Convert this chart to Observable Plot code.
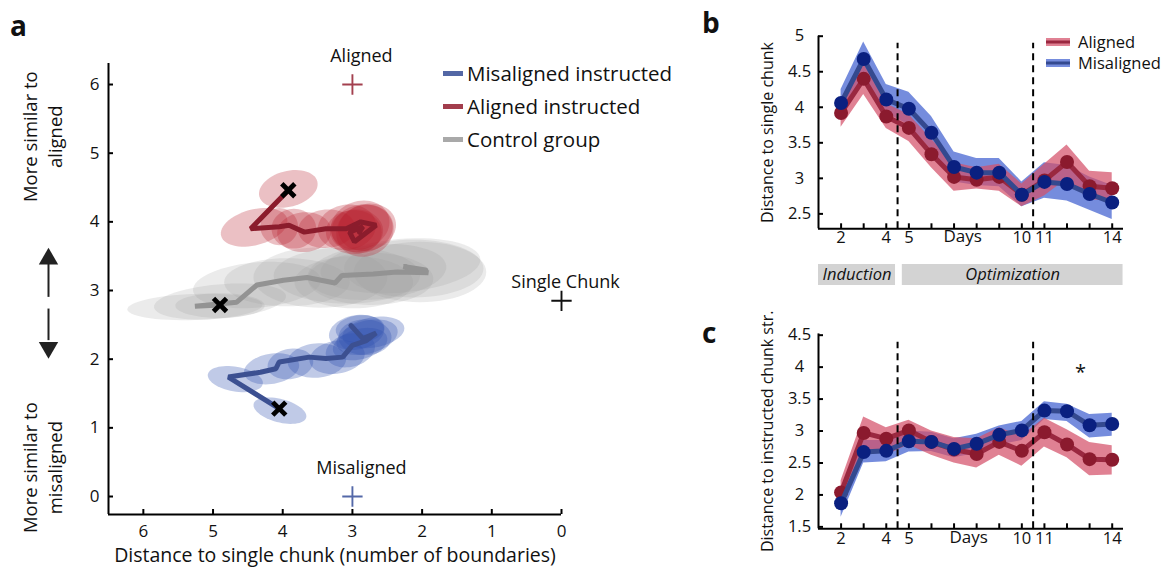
<!DOCTYPE html>
<html><head><meta charset="utf-8">
<script src="https://cdn.jsdelivr.net/npm/d3@7"></script>
<script src="https://cdn.jsdelivr.net/npm/@observablehq/plot@0.6"></script>
<style>
body{margin:0;background:#fff;}
#fig{position:relative;width:1173px;height:575px;font-family:"Open Sans",sans-serif;color:#111;overflow:hidden;background:#fff}
.abs{position:absolute}
.letter{position:absolute;font-weight:bold;font-size:28px;line-height:1;font-family:"Open Sans",sans-serif}
.leg{display:flex;align-items:center;white-space:nowrap}
</style></head><body>
<div id="fig">
  <div id="pa" class="abs" style="left:0;top:0"></div>
  <div id="pb" class="abs" style="left:700px;top:0"></div>
  <div id="pphase" class="abs" style="left:700px;top:264px"></div>
  <div id="pc" class="abs" style="left:700px;top:300px"></div>
  <div class="letter" style="left:10px;top:11px">a</div>
  <div class="letter" style="left:702px;top:8px">b</div>
  <div class="letter" style="left:702px;top:318px">c</div>
  <div id="legA" class="abs" style="left:443px;top:57px;font-size:20.5px;line-height:33px"></div>
  <div id="legB" class="abs" style="left:1046px;top:31px;font-size:16.5px;line-height:21px"></div>
</div>
<script>
// ---------------- Panel a data ----------------
const trajNames = ["Misaligned instructed", "Aligned instructed", "Control group"];
const trajColors = ["#3c5091", "#8b1c2c", "#939393"];
const legendColors = ["#5367a5", "#a23d4c", "#a9a9a9"];
const ellipseColors = ["#3050b0", "#b81c2c", "#9a9a9a"];
const ellipseOpacity = [0.3, 0.28, 0.2];

// trajectories (x = distance to single chunk, y = similarity axis), days 2..14
const blueX = [4.05, 4.78, 4.32, 4.10, 4.05, 3.62, 3.38, 3.14, 3.00, 2.80, 2.66, 2.85, 3.02];
const blueY = [1.28, 1.74, 1.81, 1.86, 1.96, 2.03, 2.01, 2.03, 2.20, 2.27, 2.38, 2.30, 2.49];
const redX  = [3.92, 4.46, 4.05, 3.91, 3.69, 3.38, 3.09, 2.88, 2.66, 2.97, 3.04, 2.85, 2.90];
const redY  = [4.46, 3.90, 3.93, 3.95, 3.85, 3.90, 3.90, 4.00, 3.95, 3.71, 3.85, 3.93, 3.85];
const grayX = [4.90, 5.26, 4.66, 4.37, 3.99, 3.65, 3.25, 3.15, 2.70, 2.36, 1.91, 2.27, 1.95];
const grayY = [2.79, 2.77, 2.83, 3.08, 3.15, 3.19, 3.11, 3.22, 3.24, 3.27, 3.26, 3.35, 3.30];

// spread ellipses: [centerX, centerY, spreadX, spreadY, tilt(deg)]
const blueEll = [
  [4.04,1.25,0.39,0.17,-15],[4.68,1.71,0.40,0.18,-10],[4.16,1.86,0.40,0.22,10],[3.89,1.93,0.33,0.22,10],
  [3.51,1.98,0.42,0.25,5],[3.22,2.03,0.40,0.24,10],[3.03,2.13,0.36,0.24,15],[2.89,2.22,0.40,0.22,15],
  [2.79,2.32,0.45,0.24,15],[2.70,2.39,0.45,0.22,10],[2.94,2.39,0.40,0.25,10],[2.82,2.32,0.38,0.26,0],[2.89,2.44,0.35,0.20,5]
];
const redEll = [
  [3.92,4.48,0.43,0.26,15],[4.41,3.92,0.49,0.26,15],[4.05,3.93,0.27,0.27,0],[3.84,3.90,0.32,0.29,0],
  [3.69,3.85,0.39,0.29,5],[3.37,3.90,0.41,0.28,5],[3.08,3.92,0.42,0.33,10],[2.89,3.95,0.43,0.35,20],
  [2.79,3.92,0.42,0.34,15],[2.98,3.85,0.40,0.32,0],[2.86,3.90,0.44,0.35,10],[2.94,3.87,0.38,0.31,0],[2.82,3.87,0.42,0.37,25]
];
const grayEll = [
  [5.26,2.76,0.97,0.19,2],[4.90,2.84,0.95,0.25,5],[4.90,2.78,0.64,0.18,0],[4.37,3.08,0.92,0.33,5],
  [3.94,3.12,0.90,0.35,0],[3.46,3.19,0.96,0.44,0],[3.08,3.22,1.05,0.41,0],[2.98,3.12,0.85,0.38,0],
  [2.74,3.17,0.90,0.38,0],[2.65,3.27,1.00,0.40,5],[2.31,3.36,1.15,0.39,5],[2.12,3.32,1.00,0.42,0],[2.03,3.27,0.95,0.44,0]
];

const refNames = ["Aligned", "Misaligned", "Single Chunk"];
const refX = [3, 3, 0];
const refY = [6, 0, 2.85];
const refColors = ["#a3404f", "#5468a8", "#111111"];

const aXTicks = [0, 1, 2, 3, 4, 5, 6];
const aYTicks = [0, 1, 2, 3, 4, 5, 6];
const aXDomain = [6.5, 0];
const aYDomain = [-0.262, 6.306];

// ---------------- Panels b, c data ----------------
const days = [2, 3, 4, 5, 6, 7, 8, 9, 10, 11, 12, 13, 14];
const dayLabels = [2, 4, 5, 10, 11, 14];
const seriesNames = ["Aligned", "Misaligned"];
const bandColors = ["#d4506a", "#4060d0"];
const lineColors = ["#9a2840", "#34498f"];
const dotColors = ["#8b1a2e", "#0a2080"];

const bAlignedMean = [3.92, 4.40, 3.87, 3.71, 3.34, 3.02, 2.98, 3.02, 2.77, 2.97, 3.23, 2.89, 2.86];
const bAlignedLow  = [3.72, 4.18, 3.70, 3.52, 3.15, 2.82, 2.85, 2.82, 2.60, 2.75, 2.99, 2.70, 2.68];
const bAlignedHigh = [4.12, 4.62, 4.05, 3.90, 3.55, 3.22, 3.15, 3.20, 2.92, 3.20, 3.47, 3.10, 3.08];
const bMisMean = [4.06, 4.68, 4.11, 3.98, 3.64, 3.16, 3.08, 3.08, 2.77, 2.95, 2.92, 2.78, 2.66];
const bMisLow  = [3.85, 4.45, 3.92, 3.75, 3.40, 2.95, 2.90, 2.88, 2.60, 2.72, 2.68, 2.55, 2.42];
const bMisHigh = [4.25, 4.92, 4.32, 4.21, 3.87, 3.37, 3.28, 3.28, 2.95, 3.22, 3.18, 3.02, 2.90];

const cAlignedMean = [2.04, 2.97, 2.88, 3.01, 2.83, 2.71, 2.64, 2.83, 2.69, 2.98, 2.79, 2.56, 2.55];
const cAlignedLow  = [1.85, 2.72, 2.62, 2.78, 2.62, 2.50, 2.42, 2.62, 2.45, 2.75, 2.58, 2.30, 2.31];
const cAlignedHigh = [2.22, 3.22, 3.05, 3.17, 3.00, 2.90, 2.88, 3.05, 2.92, 3.20, 3.02, 2.82, 2.77];
const cMisMean = [1.87, 2.67, 2.69, 2.84, 2.83, 2.72, 2.80, 2.94, 3.01, 3.32, 3.31, 3.09, 3.11];
const cMisLow  = [1.65, 2.50, 2.52, 2.67, 2.68, 2.58, 2.65, 2.78, 2.85, 3.18, 3.15, 2.89, 2.92];
const cMisHigh = [2.05, 2.85, 2.85, 3.00, 2.98, 2.88, 2.95, 3.08, 3.15, 3.46, 3.42, 3.26, 3.28];

const bYTicks = [2.5, 3, 3.5, 4, 4.5, 5];
const cYTicks = [1.5, 2, 2.5, 3, 3.5, 4, 4.5];
const dayDomain = [1, 14.5];
const bYDomain = [2.29, 5.0];
const cYDomain = [1.47, 4.52];
const phaseBreaks = [4.5, 10.5];
const phaseNames = ["Induction", "Optimization"];
const phaseStart = [1, 4.71];
const phaseEnd = [4.41, 14.48];
const sigDay = 12.6, sigValue = 3.92;

// ---------------- helpers ----------------
function ellipsePts(list, key) {
  const out = [];
  list.forEach(([cx, cy, sx, sy, ang], i) => {
    const th = ang * Math.PI / 180;
    for (let k = 0; k <= 60; k++) {
      const t = 2 * Math.PI * k / 60;
      const u = sx * Math.cos(t), v = sy * Math.sin(t);
      const dxs = u * Math.cos(th) - v * Math.sin(th);
      const dys = u * Math.sin(th) + v * Math.cos(th);
      out.push({x: cx - dxs, y: cy + dys, id: key + i});
    }
  });
  return out;
}
const traj = (xs, ys) => xs.map((x, i) => ({x, y: ys[i]}));
const FONT = '"Open Sans", sans-serif';

// ---------------- Panel a ----------------
const A_W = 640, A_H = 575, A_ML = 108, A_MR = 79, A_MT = 63, A_MB = 61;
const aPxPerY = (A_H - A_MT - A_MB) / (aYDomain[1] - aYDomain[0]);
const aPxPerX = (A_W - A_ML - A_MR) / (aXDomain[0] - aXDomain[1]);
const aTickY = 5 / aPxPerY, aTickX = 5 / aPxPerX;
const ells = [blueEll, redEll, grayEll];
const trajs = [traj(blueX, blueY), traj(redX, redY), traj(grayX, grayY)];
const refs = refNames.map((n, i) => ({name: n, x: refX[i], y: refY[i], color: refColors[i]}));
const order = [2, 0, 1];
const aMarks = [];
for (const g of order) {
  aMarks.push(Plot.line(ellipsePts(ells[g], "e" + g), {x: "x", y: "y", z: "id", fill: ellipseColors[g], fillOpacity: ellipseOpacity[g], stroke: "none"}));
  aMarks.push(Plot.line(trajs[g], {x: "x", y: "y", stroke: trajColors[g], strokeWidth: 5, strokeLinejoin: "miter"}));
}
const starts = trajs.map(t => t[0]);
const pa = Plot.plot({
  width: A_W, height: A_H, marginLeft: A_ML, marginRight: A_MR, marginTop: A_MT, marginBottom: A_MB,
  x: {domain: aXDomain, axis: null}, y: {domain: aYDomain, axis: null},
  style: {fontFamily: FONT, fontSize: "16px", color: "#111", background: "transparent", overflow: "visible"},
  marks: [
    ...aMarks,
    Plot.dot(starts, {x: "x", y: "y", symbol: "times", r: 6, stroke: "#000", strokeWidth: 4.8}),
    Plot.dot(refs, {x: "x", y: "y", symbol: "plus", r: 6.6, stroke: "color", strokeWidth: 1.9}),
    Plot.text(refs.slice(0, 2), {x: "x", y: "y", text: "name", dy: -28, dx: 9, fontSize: 18}),
    Plot.text(refs.slice(2), {x: "x", y: "y", text: "name", dy: -19, dx: 4, fontSize: 18}),
    // axes
    Plot.ruleY([aYDomain[0]], {stroke: "#000", strokeWidth: 2}),
    Plot.ruleX([aXDomain[0]], {stroke: "#000", strokeWidth: 2}),
    Plot.ruleX(aXTicks, {x: d => d, y1: aYDomain[0], y2: aYDomain[0] + aTickY, stroke: "#000", strokeWidth: 2}),
    Plot.ruleY(aYTicks, {y: d => d, x1: aXDomain[0], x2: aXDomain[0] - aTickX, stroke: "#000", strokeWidth: 2}),
    Plot.text(aXTicks, {x: d => d, frameAnchor: "bottom", dy: 22, text: d => String(d), fontSize: 17}),
    Plot.text(aYTicks, {y: d => d, frameAnchor: "left", dx: -14, textAnchor: "middle", text: d => String(d), fontSize: 17}),
    Plot.text(["Distance to single chunk (number of boundaries)"], {frameAnchor: "bottom", dy: 47, fontSize: 19.5}),
    Plot.text(["More similar to\naligned"], {frameAnchor: "left", y: 5.24, dx: -67, rotate: -90, textAnchor: "middle", lineHeight: 1.35, fontSize: 18.5}),
    Plot.text(["More similar to\nmisaligned"], {frameAnchor: "left", y: 0.42, dx: -67, rotate: -90, textAnchor: "middle", lineHeight: 1.35, fontSize: 18.5}),
    Plot.ruleX([{y1: 3.38, y2: 2.90}, {y1: 2.73, y2: 2.27}], {x: aXDomain[0], y1: "y1", y2: "y2", dx: -60, stroke: "#222", strokeWidth: 2}),
    Plot.dot([{y: 3.46, r: 0}, {y: 2.17, r: 180}], {x: aXDomain[0], y: "y", dx: -60, symbol: "triangle", r: 7.2, fill: "#222", stroke: "none", rotate: "r"})
  ]
});
document.getElementById("pa").appendChild(pa);

// legend a
const legA = document.getElementById("legA");
trajNames.forEach((n, i) => {
  const row = document.createElement("div");
  row.className = "leg";
  row.innerHTML = `<span style="display:inline-block;width:20px;height:5px;background:${legendColors[i]};margin-right:4px"></span><span>${n}</span>`;
  legA.appendChild(row);
});

// ---------------- Panels b, c ----------------
function rowsFor(means, lows, highs) {
  return seriesNames.map((s, j) => days.map((d, i) => ({series: s, j, day: d, mean: means[j][i], low: lows[j][i], high: highs[j][i]})));
}
function timePanel({rows, yDomain, yTicks, height, marginTop, marginBottom, ylabel, labelDy, daysX, dashTop, extra}) {
  const W = 473, ML = 118, MR = 50;
  const pxPerY = (height - marginTop - marginBottom) / (yDomain[1] - yDomain[0]);
  const pxPerX = (W - ML - MR) / (dayDomain[1] - dayDomain[0]);
  const tY = 5 / pxPerY, tX = 5 / pxPerX;
  const marks = [];
  for (const j of [1, 0]) {
    marks.push(Plot.areaY(rows[j], {x: "day", y1: "low", y2: "high", fill: bandColors[j], fillOpacity: 0.72}));
  }
  for (const j of [0, 1]) {
    marks.push(Plot.line(rows[j], {x: "day", y: "mean", stroke: lineColors[j], strokeWidth: 5}));
    marks.push(Plot.dot(rows[j], {x: "day", y: "mean", r: 7, fill: dotColors[j], stroke: "none"}));
  }
  marks.push(
    Plot.ruleX(phaseBreaks, {x: d => d, y1: yDomain[0], y2: dashTop, stroke: "#000", strokeWidth: 2, strokeDasharray: "7,5"}),
    Plot.ruleY([yDomain[0]], {stroke: "#000", strokeWidth: 2}),
    Plot.ruleX([dayDomain[0]], {stroke: "#000", strokeWidth: 2}),
    Plot.ruleX(days, {x: d => d, y1: yDomain[0], y2: yDomain[0] + tY, stroke: "#000", strokeWidth: 2}),
    Plot.ruleY(yTicks, {y: d => d, x1: dayDomain[0], x2: dayDomain[0] + tX, stroke: "#000", strokeWidth: 2}),
    Plot.text(dayLabels, {x: d => d, frameAnchor: "bottom", dy: labelDy, text: d => String(d), fontSize: 16.5}),
    Plot.text(["Days"], {x: daysX, frameAnchor: "bottom", dy: labelDy - 1, fontSize: 17}),
    Plot.text(yTicks, {y: d => d, frameAnchor: "left", dx: -19, textAnchor: "middle", text: d => String(d), fontSize: 16.5}),
    Plot.text([ylabel], {frameAnchor: "left", dx: -51, rotate: -90, textAnchor: "middle", fontSize: 16}),
    ...(extra || [])
  );
  return Plot.plot({
    width: W, height, marginLeft: ML, marginRight: MR, marginTop, marginBottom,
    x: {domain: dayDomain, axis: null}, y: {domain: yDomain, axis: null},
    style: {fontFamily: FONT, fontSize: "15px", color: "#111", background: "transparent", overflow: "visible"},
    marks
  });
}
const pb = timePanel({
  rows: rowsFor([bAlignedMean, bMisMean], [bAlignedLow, bMisLow], [bAlignedHigh, bMisHigh]),
  yDomain: bYDomain, yTicks: bYTicks, height: 300, marginTop: 35.7, marginBottom: 71.7,
  ylabel: "Distance to single chunk", labelDy: 14.5, daysX: 7.38, dashTop: 4.90
});
document.getElementById("pb").appendChild(pb);

const pc = timePanel({
  rows: rowsFor([cAlignedMean, cMisMean], [cAlignedLow, cMisLow], [cAlignedHigh, cMisHigh]),
  yDomain: cYDomain, yTicks: cYTicks, height: 275, marginTop: 33.4, marginBottom: 46.7,
  ylabel: "Distance to instructed chunk str.", labelDy: 15, daysX: 7.65, dashTop: 4.39,
  extra: [Plot.text(["*"], {x: sigDay, y: sigValue, fontSize: 20})]
});
document.getElementById("pc").appendChild(pc);

// phase bar
const phases = phaseNames.map((n, i) => ({name: n, start: phaseStart[i], end: phaseEnd[i]}));
const pp = Plot.plot({
  width: 473, height: 21, marginLeft: 118, marginRight: 50, marginTop: 0, marginBottom: 0,
  x: {domain: dayDomain, axis: null},
  style: {fontFamily: FONT, fontSize: "16px", color: "#111", background: "transparent", overflow: "visible"},
  marks: [
    Plot.rect(phases, {x1: "start", x2: "end", fill: "#d3d3d3"}),
    Plot.text(phases, {x: d => (d.start + d.end) / 2, text: "name", frameAnchor: "middle", fontStyle: "italic", fontSize: 16.5})
  ]
});
document.getElementById("pphase").appendChild(pp);

// legend b
const legB = document.getElementById("legB");
seriesNames.forEach((n, j) => {
  const row = document.createElement("div");
  row.className = "leg";
  row.innerHTML = `<svg width="24" height="10" style="margin-right:8px"><rect x="0" y="1" width="24" height="8" fill="${bandColors[j]}" fill-opacity="0.72"/><line x1="0" x2="24" y1="5" y2="5" stroke="${lineColors[j]}" stroke-width="3"/></svg><span>${n}</span>`;
  legB.appendChild(row);
});
</script>
</body></html>
